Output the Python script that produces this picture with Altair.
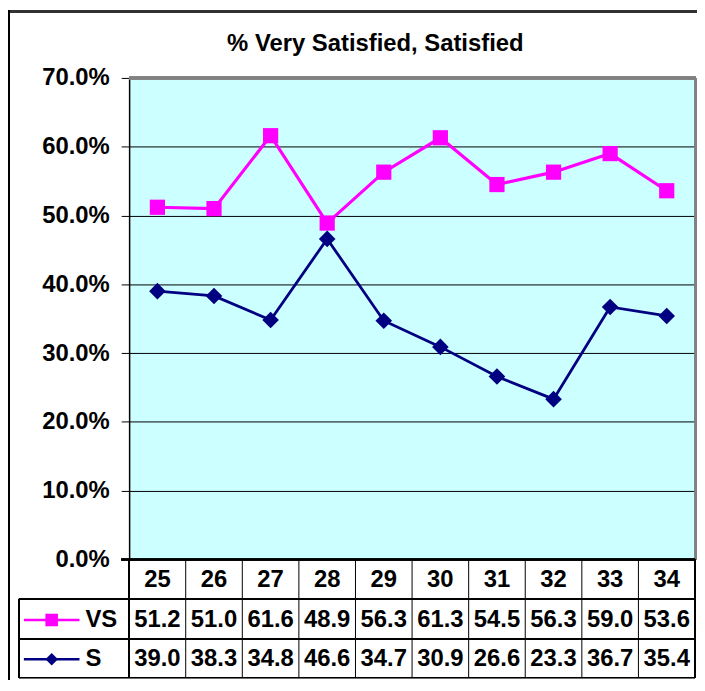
import altair as alt
import pandas as pd

categories = ["25", "26", "27", "28", "29", "30", "31", "32", "33", "34"]
vs_values = [51.2, 51.0, 61.6, 48.9, 56.3, 61.3, 54.5, 56.3, 59.0, 53.6]
s_values = [39.0, 38.3, 34.8, 46.6, 34.7, 30.9, 26.6, 23.3, 36.7, 35.4]
series_names = ["VS", "S"]
series_colors = ["#FF00FF", "#000080"]
series_shapes = ["square", "diamond"]
title_text = "% Very Satisfied, Satisfied"

FONT = "Liberation Sans"
W, H = 570, 485
ROW_H = [40, 40, 39]
HDR_BOT = H + ROW_H[0]
VS_BOT = HDR_BOT + ROW_H[1]
S_BOT = VS_BOT + ROW_H[2]
LEFT_TABLE = -111

df = pd.DataFrame({
    "cat": categories * 2,
    "val": vs_values + s_values,
    "series": ["VS"] * len(categories) + ["S"] * len(categories),
})
cat_df = pd.DataFrame({"cat": categories})

xs = alt.Scale(type="band", domain=categories, paddingInner=0, paddingOuter=0)
ys = alt.Scale(domain=[0, 0.7], nice=False)
xenc = alt.X("cat:N", scale=xs, axis=None, sort=categories)

def series_layers(name, color, shape, width, size):
    d = df[df.series == name]
    base = alt.Chart(d).transform_calculate(p="datum.val / 100")
    line = base.mark_line(color=color, strokeWidth=width).encode(
        x=xenc,
        y=alt.Y("p:Q", scale=ys, axis=alt.Axis(
            format=".1%", values=[0, 0.1, 0.2, 0.3, 0.4, 0.5, 0.6, 0.7],
            grid=True, gridColor="black", gridWidth=1, gridOpacity=1,
            domainColor="black", domainWidth=1.5, tickColor="black", tickSize=8,
            labelFont=FONT, labelFontSize=24, labelFontWeight="bold", labelColor="black",
            labelPadding=12, title=None)),
    )
    pts = base.mark_point(filled=True, opacity=1, shape=shape, color=color, size=size).encode(
        x=xenc, y=alt.Y("p:Q", scale=ys))
    return [line, pts]

layers = []
layers += series_layers("VS", "#FF00FF", "square", 3.2, 235)
layers += series_layers("S", "#000080", "diamond", 2.8, 280)

# top and right gray borders of plot
layers.append(alt.Chart(cat_df).mark_rule(color="#808080", strokeWidth=2.5).encode(
    x=alt.value(0), x2=alt.value(W + 1), y=alt.value(0)))
layers.append(alt.Chart(cat_df).mark_rule(color="#808080", strokeWidth=2.5).encode(
    x=alt.value(W + 1), y=alt.value(0), y2=alt.value(H)))

# table: vertical lines
layers.append(alt.Chart(cat_df).mark_rule(color="black", strokeWidth=1).encode(
    x=alt.X("cat:N", scale=xs, sort=categories, bandPosition=0, axis=None),
    y=alt.value(H), y2=alt.value(S_BOT)))
layers.append(alt.Chart(cat_df).mark_rule(color="black", strokeWidth=1).encode(
    x=alt.value(W), y=alt.value(H), y2=alt.value(S_BOT)))
layers.append(alt.Chart(cat_df).mark_rule(color="black", strokeWidth=1.5).encode(
    x=alt.value(0), y=alt.value(H), y2=alt.value(S_BOT)))
layers.append(alt.Chart(cat_df).mark_rule(color="black", strokeWidth=1).encode(
    x=alt.value(LEFT_TABLE), y=alt.value(HDR_BOT), y2=alt.value(S_BOT)))
layers.append(alt.Chart(cat_df).mark_rule(color="black", strokeWidth=1.5).encode(
    x=alt.value(-8), x2=alt.value(W), y=alt.value(H)))
for yy in [HDR_BOT, VS_BOT, S_BOT]:
    layers.append(alt.Chart(cat_df).mark_rule(color="black", strokeWidth=1).encode(
        x=alt.value(LEFT_TABLE), x2=alt.value(W), y=alt.value(yy)))

# header labels
layers.append(alt.Chart(cat_df).mark_text(font=FONT, fontSize=24, fontWeight="bold",
                                          color="black", baseline="middle").encode(
    x=xenc, y=alt.value(H + ROW_H[0] / 2 + 1), text="cat:N"))

row_centers = [HDR_BOT + ROW_H[1] / 2 + 1, VS_BOT + ROW_H[2] / 2 + 1]
for name, color, shape, yc in zip(series_names, series_colors, series_shapes, row_centers):
    d = df[df.series == name]
    layers.append(alt.Chart(d).mark_text(font=FONT, fontSize=24, fontWeight="bold",
                                         color="black", baseline="middle").encode(
        x=xenc, y=alt.value(yc), text=alt.Text("val:Q", format=".1f")))
    ld = pd.DataFrame({"series": [name]})
    layers.append(alt.Chart(ld).mark_rule(color=color, strokeWidth=2.5).encode(
        x=alt.value(-106), x2=alt.value(-50), y=alt.value(yc)))
    layers.append(alt.Chart(ld).mark_point(filled=True, opacity=1, shape=shape, color=color,
                                           size=160).encode(
        x=alt.value(-78), y=alt.value(yc)))
    layers.append(alt.Chart(ld).mark_text(font=FONT, fontSize=24, fontWeight="bold",
                                          color="black", baseline="middle", align="left").encode(
        x=alt.value(-44), y=alt.value(yc), text="series:N"))

# title
layers.append(alt.Chart(pd.DataFrame({"t": [title_text]})).mark_text(
    font=FONT, fontSize=24, fontWeight="bold", color="black", baseline="alphabetic",
    align="center").encode(x=alt.value(248), y=alt.value(-27), text="t:N"))

# outer chart border (top and left)
layers.append(alt.Chart(cat_df).mark_rule(color="#333333", strokeWidth=2.5).encode(
    x=alt.value(-122), x2=alt.value(W + 10), y=alt.value(-67)))
layers.append(alt.Chart(cat_df).mark_rule(color="black", strokeWidth=1.5).encode(
    x=alt.value(-121), y=alt.value(-68), y2=alt.value(S_BOT + 10)))

chart = alt.layer(*layers).properties(
    width=W, height=H,
    autosize=alt.AutoSizeParams(type="none"),
    padding={"left": 122, "top": 68, "right": 2, "bottom": S_BOT - H},
    background="white",
).configure_view(fill="#CCFFFF", stroke=None)

chart.save("out.html", embed_options={"renderer": "svg", "actions": False})
